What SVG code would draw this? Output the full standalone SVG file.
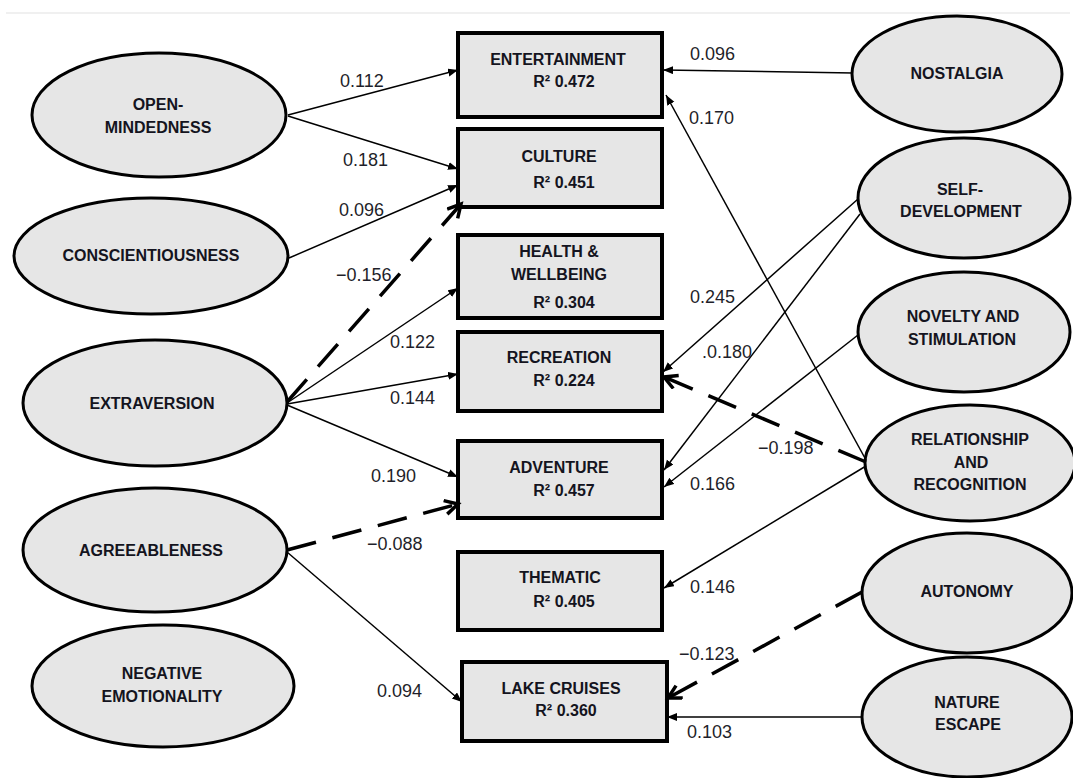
<svg xmlns="http://www.w3.org/2000/svg" width="1073" height="778" viewBox="0 0 1073 778">
<defs>
<style>
.bg{fill:#ffffff}
.ell{fill:#e6e6e6;stroke:#000;stroke-width:3}
.box{fill:#e6e6e6;stroke:#000;stroke-width:4}
.nt{font-family:"Liberation Sans",Arial,sans-serif;font-weight:bold;font-size:16px;fill:#141420;text-anchor:middle}
.lb{font-family:"Liberation Sans",Arial,sans-serif;font-size:18px;fill:#1f1f2a}
.thin{stroke:#000;stroke-width:1.5;fill:none;marker-end:url(#arr)}
.dash{stroke:#000;stroke-width:3.5;fill:none;stroke-dasharray:30 17;marker-end:url(#open)}
</style>
<marker id="arr" markerUnits="userSpaceOnUse" markerWidth="11" markerHeight="9" refX="10" refY="4" orient="auto" viewBox="0 0 11 9">
<path d="M0,0 L10,4 L0,8 z" fill="#000"/>
</marker>
<marker id="open" markerUnits="userSpaceOnUse" markerWidth="18" markerHeight="18" refX="14" refY="8" orient="auto" viewBox="0 0 18 18">
<path d="M1,1 L14,8 L1,15" fill="none" stroke="#000" stroke-width="3.5" stroke-linejoin="miter"/>
</marker>
</defs>
<rect class="bg" x="0" y="0" width="1073" height="778"/>
<line x1="6" y1="13" x2="1070" y2="13" stroke="#f0f0f0" stroke-width="2"/>

<g id="open-mindedness"><ellipse class="ell" cx="159" cy="115" rx="127" ry="62"/><text class="nt" x="158" y="110">OPEN-</text><text class="nt" x="158" y="133">MINDEDNESS</text></g>
<g id="conscientiousness"><ellipse class="ell" cx="151" cy="256" rx="137" ry="58"/><text class="nt" x="151" y="261">CONSCIENTIOUSNESS</text></g>
<g id="extraversion"><ellipse class="ell" cx="155" cy="403" rx="132" ry="63"/><text class="nt" x="152" y="409">EXTRAVERSION</text></g>
<g id="agreeableness"><ellipse class="ell" cx="155" cy="550" rx="132" ry="62"/><text class="nt" x="151" y="556">AGREEABLENESS</text></g>
<g id="negative-emotionality"><ellipse class="ell" cx="163" cy="686" rx="131" ry="61"/><text class="nt" x="162" y="679">NEGATIVE</text><text class="nt" x="162" y="702">EMOTIONALITY</text></g>

<g id="entertainment"><rect class="box" x="458" y="33" width="204" height="84"/><text class="nt" x="558" y="65">ENTERTAINMENT</text><text class="nt" x="564" y="87">R² 0.472</text></g>
<g id="culture"><rect class="box" x="458" y="129" width="204" height="78"/><text class="nt" x="559" y="162">CULTURE</text><text class="nt" x="564" y="188">R² 0.451</text></g>
<g id="health"><rect class="box" x="458" y="235" width="204" height="83"/><text class="nt" x="559" y="257">HEALTH &amp;</text><text class="nt" x="559" y="280">WELLBEING</text><text class="nt" x="564" y="308">R² 0.304</text></g>
<g id="recreation"><rect class="box" x="458" y="332" width="204" height="79"/><text class="nt" x="559" y="363">RECREATION</text><text class="nt" x="564" y="386">R² 0.224</text></g>
<g id="adventure"><rect class="box" x="458" y="441" width="204" height="77"/><text class="nt" x="559" y="473">ADVENTURE</text><text class="nt" x="564" y="496">R² 0.457</text></g>
<g id="thematic"><rect class="box" x="458" y="552" width="204" height="78"/><text class="nt" x="560" y="583">THEMATIC</text><text class="nt" x="564" y="607">R² 0.405</text></g>
<g id="lake-cruises"><rect class="box" x="462" y="662" width="205" height="79"/><text class="nt" x="561" y="694">LAKE CRUISES</text><text class="nt" x="566" y="716">R² 0.360</text></g>

<g id="nostalgia"><ellipse class="ell" cx="957" cy="74" rx="105" ry="58"/><text class="nt" x="957" y="79">NOSTALGIA</text></g>
<g id="self-development"><ellipse class="ell" cx="964" cy="198" rx="106" ry="60"/><text class="nt" x="960" y="195">SELF-</text><text class="nt" x="961" y="217">DEVELOPMENT</text></g>
<g id="novelty"><ellipse class="ell" cx="964" cy="332" rx="106" ry="60"/><text class="nt" x="963" y="322">NOVELTY AND</text><text class="nt" x="962" y="345">STIMULATION</text></g>
<g id="relationship"><ellipse class="ell" cx="970" cy="463" rx="105" ry="58"/><text class="nt" x="970" y="445">RELATIONSHIP</text><text class="nt" x="971" y="468">AND</text><text class="nt" x="970" y="490">RECOGNITION</text></g>
<g id="autonomy"><ellipse class="ell" cx="967" cy="593" rx="105" ry="60"/><text class="nt" x="967" y="597">AUTONOMY</text></g>
<g id="nature-escape"><ellipse class="ell" cx="967" cy="717" rx="105" ry="60"/><text class="nt" x="967" y="708">NATURE</text><text class="nt" x="968" y="730">ESCAPE</text></g>

<g id="connectors">
<line class="thin" x1="288" y1="115" x2="458" y2="70"/>
<line class="thin" x1="288" y1="116" x2="458" y2="169"/>
<line class="thin" x1="289" y1="258" x2="458" y2="185"/>
<line class="dash" x1="287" y1="402" x2="461" y2="204"/>
<line class="thin" x1="287" y1="403" x2="458" y2="288"/>
<line class="thin" x1="287" y1="404" x2="458" y2="374"/>
<line class="thin" x1="287" y1="405" x2="458" y2="477"/>
<line class="dash" x1="287" y1="550" x2="458" y2="504"/>
<line class="thin" x1="287" y1="552" x2="462" y2="702"/>
<line class="thin" x1="853" y1="73" x2="663" y2="70"/>
<line class="thin" x1="866" y1="460" x2="666" y2="95"/>
<line class="thin" x1="858" y1="199" x2="663" y2="372"/>
<line class="thin" x1="860" y1="214" x2="664" y2="470"/>
<line class="thin" x1="858" y1="335" x2="664" y2="487"/>
<line class="dash" x1="866" y1="462" x2="664" y2="377"/>
<line class="thin" x1="866" y1="466" x2="664" y2="588"/>
<line class="dash" x1="862" y1="592" x2="668" y2="698"/>
<line class="thin" x1="862" y1="717" x2="667" y2="717"/>
</g>

<g id="labels">
<text class="lb" x="340" y="87">0.112</text>
<text class="lb" x="343" y="166">0.181</text>
<text class="lb" x="339" y="216">0.096</text>
<text class="lb" x="336" y="281">−0.156</text>
<text class="lb" x="390" y="348">0.122</text>
<text class="lb" x="390" y="404">0.144</text>
<text class="lb" x="371" y="482">0.190</text>
<text class="lb" x="367" y="550">−0.088</text>
<text class="lb" x="377" y="697">0.094</text>
<text class="lb" x="690" y="60">0.096</text>
<text class="lb" x="689" y="124">0.170</text>
<text class="lb" x="690" y="303">0.245</text>
<text class="lb" x="702" y="358">.0.180</text>
<text class="lb" x="758" y="454">−0.198</text>
<text class="lb" x="690" y="490">0.166</text>
<text class="lb" x="690" y="593">0.146</text>
<text class="lb" x="679" y="660">−0.123</text>
<text class="lb" x="687" y="738">0.103</text>
</g>
</svg>
